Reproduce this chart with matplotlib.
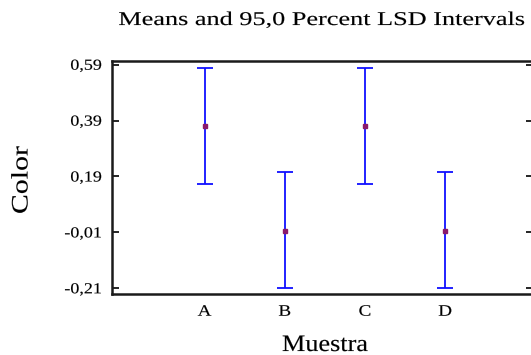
import matplotlib
matplotlib.use("Agg")
import matplotlib.pyplot as plt
from matplotlib import font_manager
from matplotlib.patheffects import AbstractPathEffect
from matplotlib.transforms import Affine2D

# ---- data ----
categories = ["A", "B", "C", "D"]
means = [0.372, -0.004, 0.372, -0.004]
lower = [0.164, -0.210, 0.164, -0.210]
upper = [0.579, 0.207, 0.579, 0.207]
ytick_values = [-0.21, -0.01, 0.19, 0.39, 0.59]
ytick_labels = ["-0,21", "-0,01", "0,19", "0,39", "0,59"]
title = "Means and 95,0 Percent LSD Intervals"
xlabel = "Muestra"
ylabel = "Color"


class Stretch(AbstractPathEffect):
    """Horizontally stretch text glyphs (along text direction), slight stroke."""
    def __init__(self, sx, anchor="center", stroke=0.1):
        super().__init__()
        self.sx = sx
        self.anchor = anchor
        self.stroke = stroke

    def draw_path(self, renderer, gc, tpath, affine, rgbFace=None):
        ext = tpath.get_extents()
        if self.anchor == "center":
            cx = (ext.x0 + ext.x1) / 2
        elif self.anchor == "right":
            cx = ext.x1
        else:
            cx = 0
        t = Affine2D().translate(-cx, 0).scale(self.sx, 1).translate(cx, 0)
        gc0 = renderer.new_gc()
        gc0.copy_properties(gc)
        gc0.set_linewidth(self.stroke)
        gc0.set_foreground(rgbFace if rgbFace is not None else "k")
        renderer.draw_path(gc0, tpath, t + affine, rgbFace)
        gc0.restore()


serif_name = None
for f in font_manager.fontManager.ttflist:
    if f.name == "Liberation Serif" and f.style == "normal" and f.weight in (400, "normal"):
        serif_name = f.name
        break
if serif_name is None:
    for cand in ["Times New Roman", "Nimbus Roman", "DejaVu Serif"]:
        if any(f.name == cand for f in font_manager.fontManager.ttflist):
            serif_name = cand
            break
plt.rcParams["font.family"] = [serif_name, "DejaVu Serif"]

W, H = 531, 355
fig = plt.figure(figsize=(W / 100, H / 100), dpi=100)
L, R, T, B = 111.5, 533.0, 60.7, 294.0
ax = fig.add_axes([L / W, 1 - B / H, (R - L) / W, (B - T) / H])

x = list(range(len(categories)))
yerr_low = [m - lo for m, lo in zip(means, lower)]
yerr_up = [up - m for m, up in zip(means, upper)]
ax.errorbar(x, means, yerr=[yerr_low, yerr_up], fmt="none", ecolor="#1010ff",
            elinewidth=1.3, capsize=5.8, capthick=1.3, zorder=2)
ax.plot(x, means, linestyle="none", marker="s", markersize=2.6,
        color="#8a1a6a", zorder=3)

ax.set_xlim(-1.16, 4.096)
ax.set_ylim(-0.2304, 0.6043)

ax.set_xticks(x)
ax.set_xticklabels(categories, fontsize=11.5)
ax.set_yticks(ytick_values)
ax.set_yticklabels(ytick_labels, fontsize=11)
ax.tick_params(axis="x", length=0, pad=7)
ax.tick_params(axis="y", direction="in", length=5, width=1.2, pad=7,
               right=True, left=True)

for s in ax.spines.values():
    s.set_linewidth(1.8)
    s.set_color("#1a1a1a")

for lab in ax.get_yticklabels():
    lab.set_path_effects([Stretch(1.18, "right")])
for lab in ax.get_xticklabels():
    lab.set_path_effects([Stretch(1.2, "center")])

t_title = fig.text(322.5 / W, 1 - 25 / H, title, ha="center", va="baseline",
                   fontsize=14)
t_x = fig.text(325 / W, 1 - 351 / H, xlabel, ha="center", va="baseline",
               fontsize=17)
t_y = fig.text(22 / W, 1 - 180 / H, ylabel, ha="center", va="center",
               rotation=90, fontsize=17)

renderer = fig.canvas.get_renderer()
for txt, target in [(t_title, 409), (t_x, 86)]:
    w = txt.get_window_extent(renderer).width
    txt.set_path_effects([Stretch(target / w, "center")])
h = t_y.get_window_extent(renderer).height
t_y.set_path_effects([Stretch(68 / h, "center")])

fig.savefig("out.png", dpi=100)
